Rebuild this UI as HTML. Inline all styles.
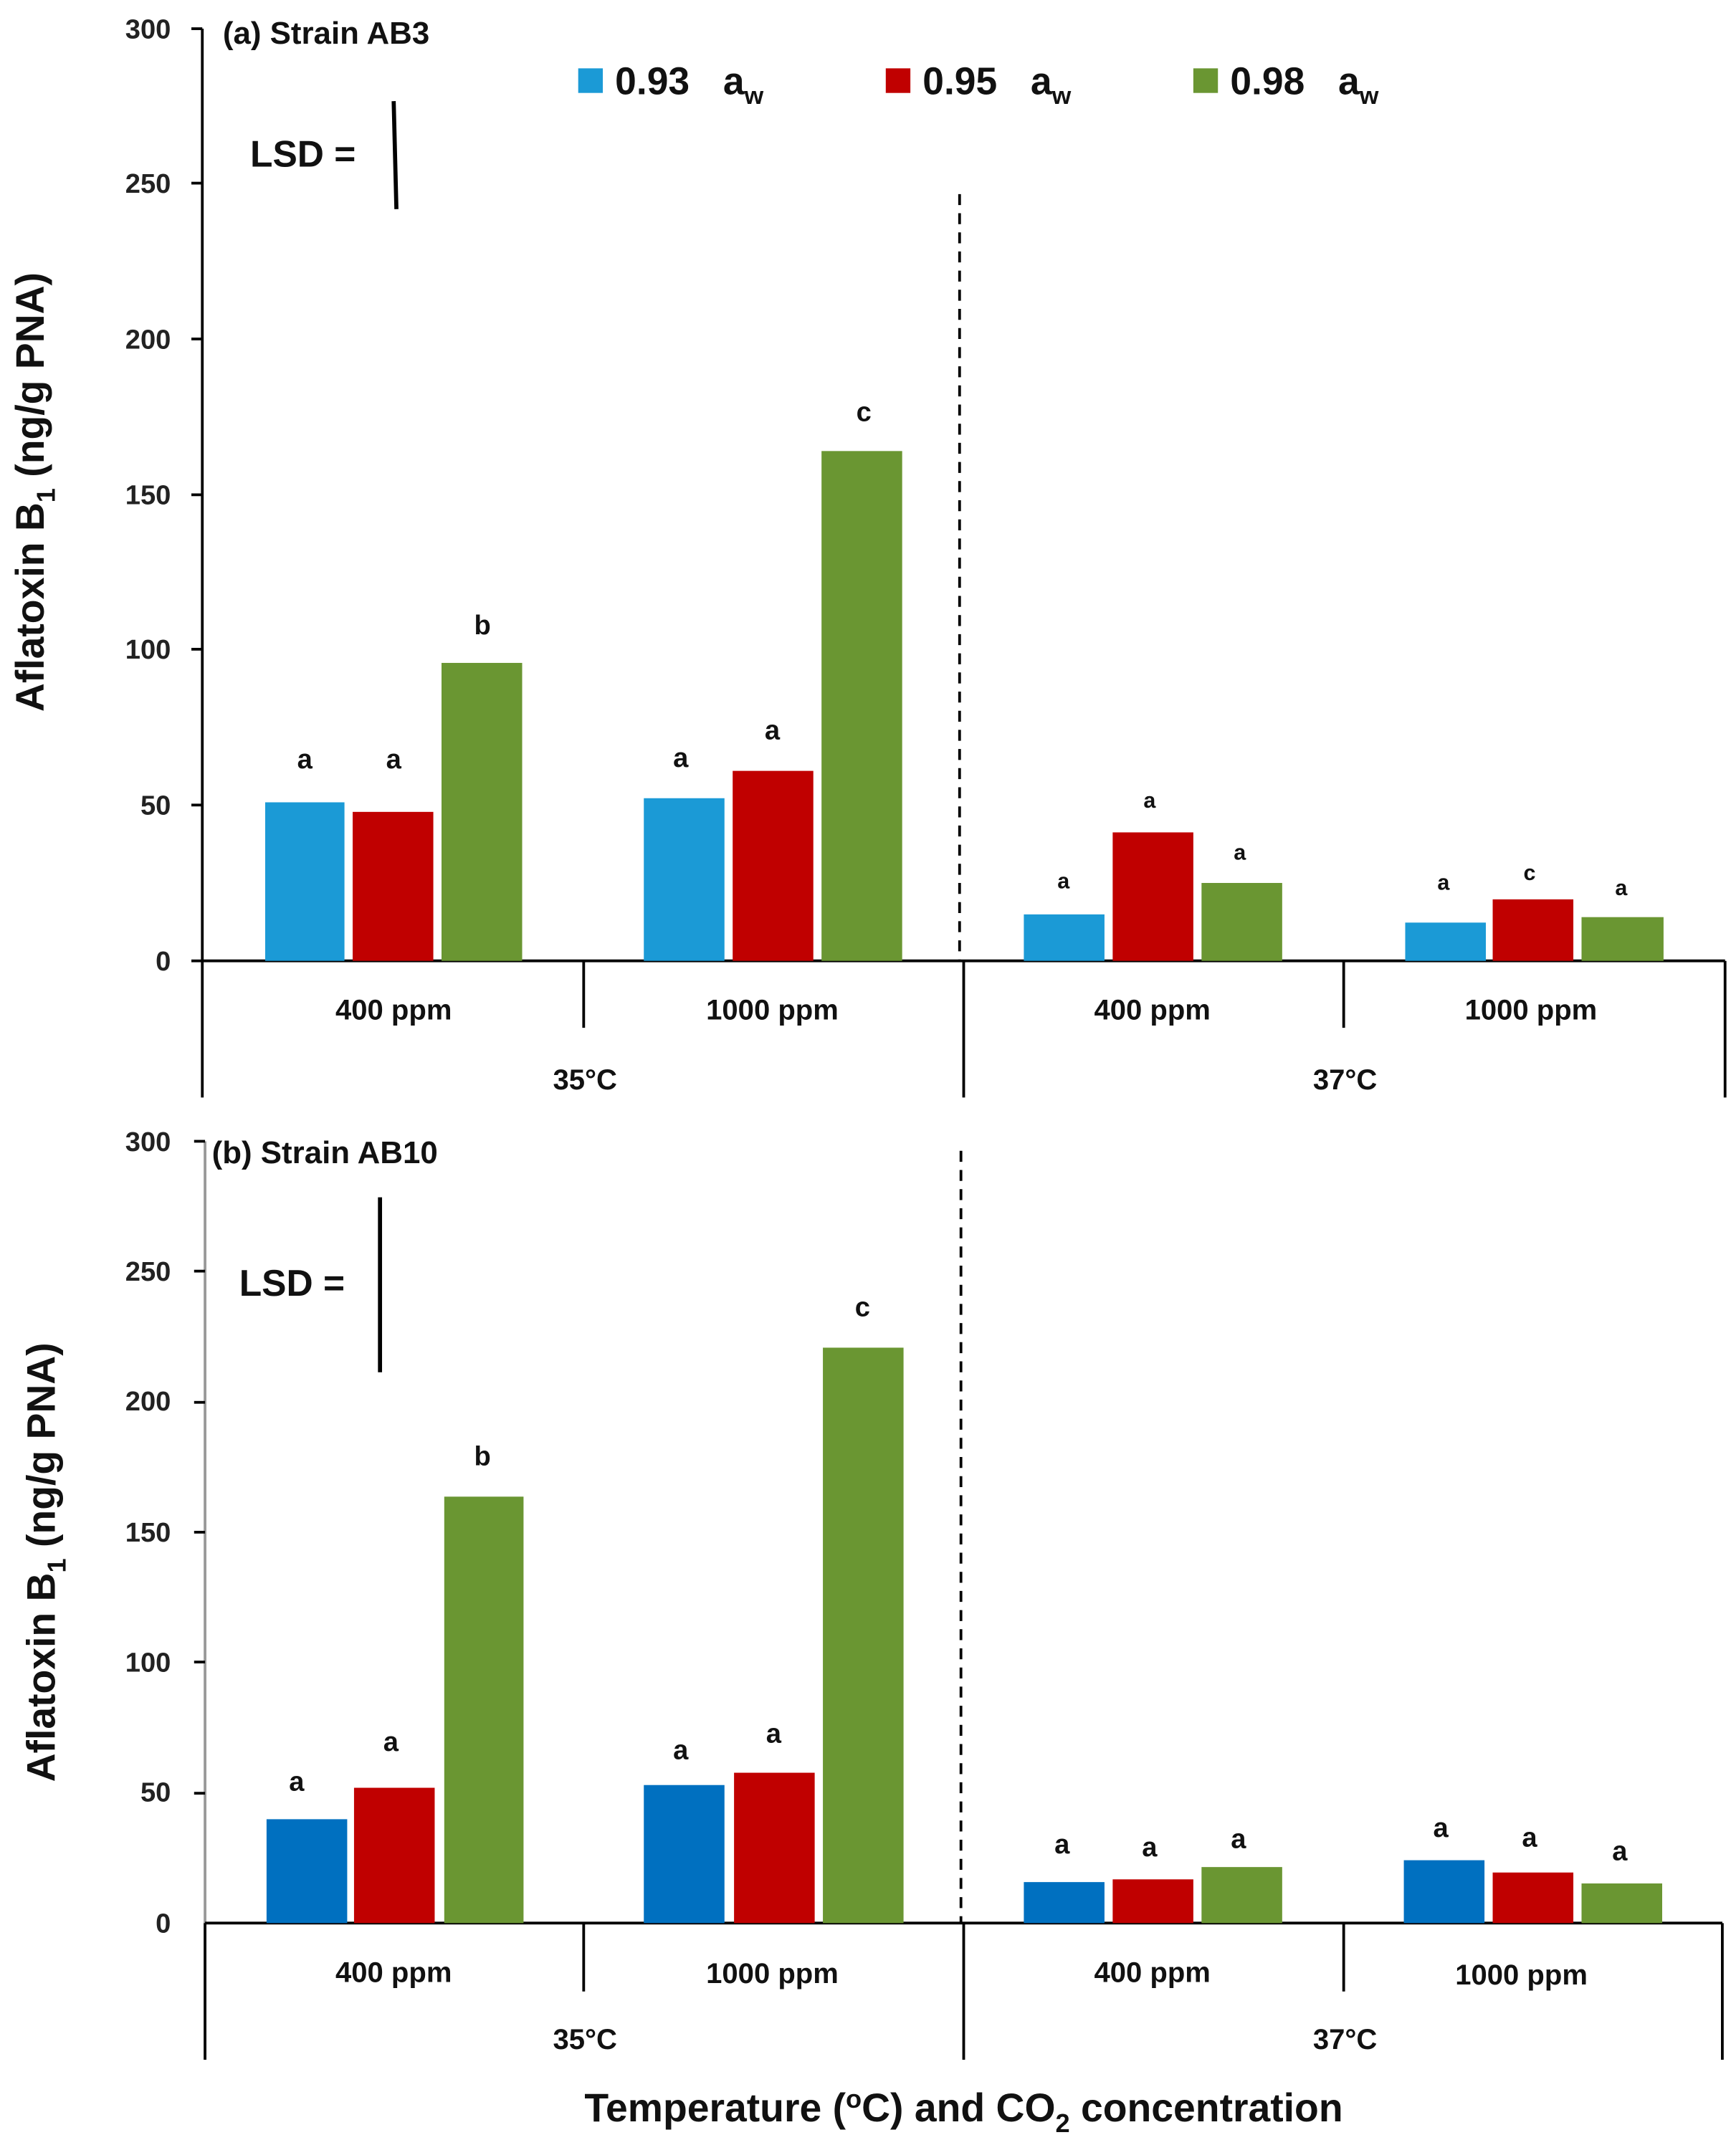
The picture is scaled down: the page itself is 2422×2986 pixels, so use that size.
<!DOCTYPE html>
<html><head><style>html,body{margin:0;padding:0;background:#fff}svg{display:block}</style></head><body>
<svg width="2422" height="2986" viewBox="0 0 1270 1565.7" preserveAspectRatio="none" xmlns="http://www.w3.org/2000/svg" font-family="Liberation Sans, sans-serif" font-weight="bold">
<g font-size="20" text-anchor="end" fill="#222">
<text x="125" y="710">0</text><text x="125" y="596">50</text><text x="125" y="482">100</text><text x="125" y="369">150</text><text x="125" y="255">200</text><text x="125" y="141">250</text><text x="125" y="28">300</text>
<text x="125" y="1414">0</text><text x="125" y="1318">50</text><text x="125" y="1223">100</text><text x="125" y="1128">150</text><text x="125" y="1032">200</text><text x="125" y="937">250</text><text x="125" y="842">300</text>
</g>
<g stroke="#000" stroke-width="2">
<line x1="148" y1="21" x2="148" y2="803"/><line x1="148" y1="703" x2="1262" y2="703"/>
<line x1="427" y1="703" x2="427" y2="752"/><line x1="705" y1="703" x2="705" y2="803"/><line x1="983" y1="703" x2="983" y2="752"/><line x1="1262" y1="703" x2="1262" y2="803"/>
<line x1="140" y1="21" x2="148" y2="21"/><line x1="140" y1="134" x2="148" y2="134"/><line x1="140" y1="248" x2="148" y2="248"/><line x1="140" y1="362" x2="148" y2="362"/><line x1="140" y1="475" x2="148" y2="475"/><line x1="140" y1="589" x2="148" y2="589"/><line x1="140" y1="703" x2="148" y2="703"/>
<line x1="702" y1="142" x2="702" y2="703" stroke-dasharray="8,6"/>
<line x1="288" y1="74" x2="290" y2="153" stroke-width="3"/>
<line x1="150" y1="835" x2="150" y2="1507" stroke="#999"/><line x1="150" y1="1407" x2="1260" y2="1407"/>
<line x1="427" y1="1407" x2="427" y2="1457"/><line x1="705" y1="1407" x2="705" y2="1507"/><line x1="983" y1="1407" x2="983" y2="1457"/><line x1="1260" y1="1407" x2="1260" y2="1507"/>
<line x1="150" y1="1407" x2="150" y2="1507"/>
<line x1="142" y1="835" x2="150" y2="835"/><line x1="142" y1="930" x2="150" y2="930"/><line x1="142" y1="1026" x2="150" y2="1026"/><line x1="142" y1="1121" x2="150" y2="1121"/><line x1="142" y1="1216" x2="150" y2="1216"/><line x1="142" y1="1312" x2="150" y2="1312"/>
<line x1="703" y1="842" x2="703" y2="1407" stroke-dasharray="8,6"/>
<line x1="278" y1="876" x2="278" y2="1004" stroke-width="3"/>
</g>
<g>
<rect x="194" y="587" width="58" height="116" fill="#1B9AD6"/><rect x="258" y="594" width="59" height="109" fill="#C00000"/><rect x="323" y="485" width="59" height="218" fill="#6A9632"/>
<rect x="471" y="584" width="59" height="119" fill="#1B9AD6"/><rect x="536" y="564" width="59" height="139" fill="#C00000"/><rect x="601" y="330" width="59" height="373" fill="#6A9632"/>
<rect x="749" y="669" width="59" height="34" fill="#1B9AD6"/><rect x="814" y="609" width="59" height="94" fill="#C00000"/><rect x="879" y="646" width="59" height="57" fill="#6A9632"/>
<rect x="1028" y="675" width="59" height="28" fill="#1B9AD6"/><rect x="1092" y="658" width="59" height="45" fill="#C00000"/><rect x="1157" y="671" width="60" height="32" fill="#6A9632"/>
</g>
<g>
<rect x="195" y="1331" width="59" height="76" fill="#0070C0"/><rect x="259" y="1308" width="59" height="99" fill="#C00000"/><rect x="325" y="1095" width="58" height="312" fill="#6A9632"/>
<rect x="471" y="1306" width="59" height="101" fill="#0070C0"/><rect x="537" y="1297" width="59" height="110" fill="#C00000"/><rect x="602" y="986" width="59" height="421" fill="#6A9632"/>
<rect x="749" y="1377" width="59" height="30" fill="#0070C0"/><rect x="814" y="1375" width="59" height="32" fill="#C00000"/><rect x="879" y="1366" width="59" height="41" fill="#6A9632"/>
<rect x="1027" y="1361" width="59" height="46" fill="#0070C0"/><rect x="1092" y="1370" width="59" height="37" fill="#C00000"/><rect x="1157" y="1378" width="59" height="29" fill="#6A9632"/>
</g>
<g font-size="20" text-anchor="middle" fill="#111">
<text x="223" y="562">a</text><text x="288" y="562">a</text><text x="353" y="464">b</text>
<text x="498" y="561">a</text><text x="565" y="541">a</text><text x="632" y="308">c</text>
<g font-size="16"><text x="778" y="650">a</text><text x="841" y="591">a</text><text x="907" y="629">a</text>
<text x="1056" y="651">a</text><text x="1119" y="644">c</text><text x="1186" y="655">a</text></g>
<text x="217" y="1310">a</text><text x="286" y="1281">a</text><text x="353" y="1072">b</text>
<text x="498" y="1287">a</text><text x="566" y="1275">a</text><text x="631" y="963">c</text>
<text x="777" y="1356">a</text><text x="841" y="1358">a</text><text x="906" y="1352">a</text>
<text x="1054" y="1344">a</text><text x="1119" y="1351">a</text><text x="1185" y="1361">a</text>
</g>
<g font-size="21" text-anchor="middle" fill="#111">
<text x="288" y="746">400 ppm</text><text x="565" y="746">1000 ppm</text><text x="843" y="746">400 ppm</text><text x="1120" y="746">1000 ppm</text>
<text x="428" y="797">35°C</text><text x="984" y="797">37°C</text>
<text x="288" y="1450">400 ppm</text><text x="565" y="1451">1000 ppm</text><text x="843" y="1450">400 ppm</text><text x="1113" y="1452">1000 ppm</text>
<text x="428" y="1499">35°C</text><text x="984" y="1499">37°C</text>
<text x="705" y="1552" font-size="29">Temperature (<tspan font-size="19" dy="-10">o</tspan><tspan dy="10">C) and CO</tspan><tspan font-size="19" dy="8">2</tspan><tspan dy="-8"> concentration</tspan></text>
</g>
<g font-size="23" fill="#111">
<text x="163" y="32">(a) Strain AB3</text>
<text x="155" y="851">(b) Strain AB10</text>
<text x="183" y="122" font-size="27">LSD =</text>
<text x="175" y="948" font-size="27">LSD =</text>
</g>
<g font-size="28" fill="#111">
<rect x="423" y="50" width="18" height="18" fill="#1B9AD6"/><text x="450" y="69">0.93<tspan x="529">a</tspan><tspan font-size="18" dy="7">w</tspan></text>
<rect x="648" y="50" width="18" height="18" fill="#C00000"/><text x="675" y="69">0.95<tspan x="754">a</tspan><tspan font-size="18" dy="7">w</tspan></text>
<rect x="873" y="50" width="18" height="18" fill="#6A9632"/><text x="900" y="69">0.98<tspan x="979">a</tspan><tspan font-size="18" dy="7">w</tspan></text>
</g>
<g font-size="29" fill="#111" text-anchor="middle">
<text transform="translate(32,360) rotate(-90)">Aflatoxin B<tspan font-size="19" dy="8">1</tspan><tspan dy="-8"> (ng/g PNA)</tspan></text>
<text transform="translate(40,1143) rotate(-90)">Aflatoxin B<tspan font-size="19" dy="8">1</tspan><tspan dy="-8"> (ng/g PNA)</tspan></text>
</g>
</svg>
</body></html>
